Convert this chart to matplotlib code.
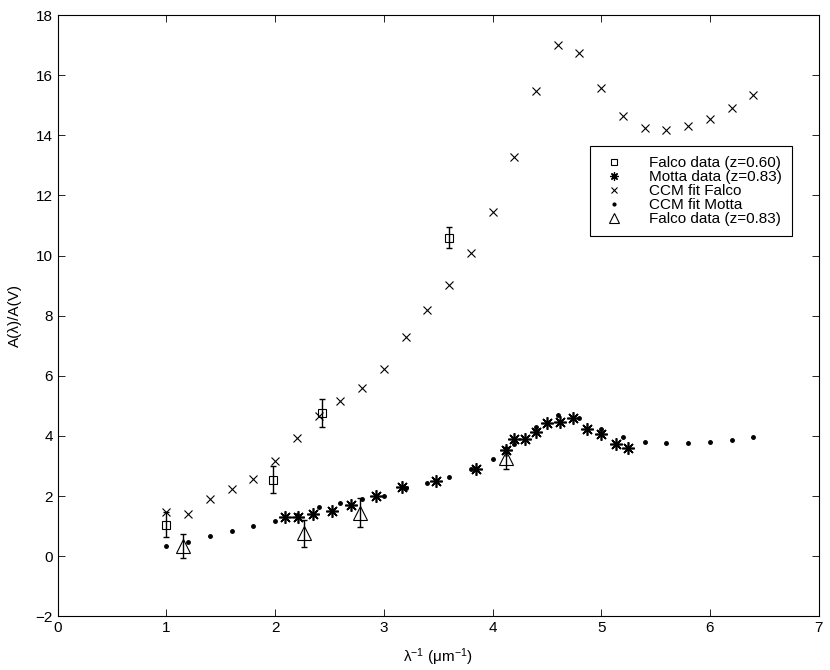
import matplotlib
matplotlib.use('Agg')
import matplotlib.pyplot as plt
from matplotlib.lines import Line2D

plt.rcParams['font.family'] = ['Liberation Sans', 'DejaVu Sans']
plt.rcParams['mathtext.fontset'] = 'custom'
plt.rcParams['mathtext.rm'] = 'Liberation Sans'
plt.rcParams['mathtext.it'] = 'Liberation Sans:italic'
plt.rcParams['font.size'] = 11

# CCM model grid (inverse wavelength, 1/micron)
ccm_x = [1.0, 1.2, 1.4, 1.6, 1.8, 2.0, 2.2, 2.4, 2.6, 2.8, 3.0, 3.2, 3.4, 3.6,
         3.8, 4.0, 4.2, 4.4, 4.6, 4.8, 5.0, 5.2, 5.4, 5.6, 5.8, 6.0, 6.2, 6.4]
ccm_falco = [1.46, 1.42, 1.89, 2.23, 2.58, 3.16, 3.92, 4.67, 5.17, 5.60, 6.24, 7.30, 8.18, 9.03,
             10.07, 11.44, 13.27, 15.46, 17.00, 16.75, 15.57, 14.65, 14.24, 14.16, 14.30, 14.55, 14.90, 15.35]
ccm_motta = [0.33, 0.46, 0.68, 0.83, 1.00, 1.18, 1.38, 1.62, 1.77, 1.89, 2.01, 2.27, 2.44, 2.63,
             2.90, 3.23, 3.74, 4.31, 4.71, 4.59, 4.22, 3.96, 3.81, 3.77, 3.78, 3.81, 3.88, 3.98]

# Motta data (z=0.83)
motta_x = [2.09, 2.21, 2.35, 2.52, 2.70, 2.93, 3.17, 3.48, 3.85, 4.12, 4.20, 4.30, 4.40, 4.50,
           4.62, 4.74, 4.87, 5.00, 5.14, 5.25]
motta_y = [1.30, 1.31, 1.42, 1.51, 1.69, 2.01, 2.31, 2.50, 2.89, 3.52, 3.90, 3.89, 4.14, 4.42,
           4.48, 4.60, 4.23, 4.06, 3.72, 3.61]

# Falco data (z=0.60)
falco60_x = [1.0, 1.98, 2.43, 3.6]
falco60_y = [1.05, 2.55, 4.76, 10.59]
falco60_err = [0.41, 0.46, 0.46, 0.35]

# Falco data (z=0.83)
falco83_x = [1.155, 2.27, 2.78, 4.12]
falco83_y = [0.33, 0.77, 1.45, 3.27]
falco83_err = [0.40, 0.45, 0.47, 0.37]

fig = plt.figure(figsize=(8.3, 6.7), dpi=100)
ax = fig.add_axes([0.0695, 0.0801, 0.9168, 0.8975])

ax.errorbar(falco60_x, falco60_y, yerr=falco60_err, fmt='none', ecolor='k',
            elinewidth=1.0, capsize=2.5, capthick=1.0)
ax.plot(falco60_x, falco60_y, 's', ms=6, mfc='none', mec='k', mew=0.8)
ax.plot(motta_x, motta_y, marker=(8, 2, 0), ls='none', ms=9, mec='k', mew=1.2)
ax.plot(ccm_x, ccm_falco, 'x', ms=5.5, mec='k', mew=0.8)
ax.plot(ccm_x, ccm_motta, 'o', ms=2.5, mfc='k', mec='k')
ax.errorbar(falco83_x, falco83_y, yerr=falco83_err, fmt='none', ecolor='k',
            elinewidth=1.0, capsize=2.5, capthick=1.0)
ax.plot(falco83_x, falco83_y, '^', ms=10, mfc='none', mec='k', mew=0.8)

ax.set_xlim(0, 7)
ax.set_ylim(-2, 18)
ax.set_xticks(range(0, 8))
ax.set_yticks(range(-2, 19, 2))
ax.tick_params(direction='in', top=True, right=True, length=5, width=0.6, labelsize=11)
for s in ax.spines.values():
    s.set_linewidth(0.8)

ax.set_xlabel(r'λ$^{-1}$ (μm$^{-1}$)', fontsize=11, labelpad=8)
ax.set_ylabel('A(λ)/A(V)', fontsize=11, labelpad=10)

handles = [
    Line2D([], [], ls='none', marker='s', ms=5, mfc='none', mec='k', mew=0.8),
    Line2D([], [], ls='none', marker=(8, 2, 0), ms=6, mec='k', mew=0.9),
    Line2D([], [], ls='none', marker='x', ms=5, mec='k', mew=0.8),
    Line2D([], [], ls='none', marker='o', ms=2, mfc='k', mec='k'),
    Line2D([], [], ls='none', marker='^', ms=7, mfc='none', mec='k', mew=0.8),
]
labels = ['Falco data (z=0.60)', 'Motta data (z=0.83)', 'CCM fit Falco',
          'CCM fit Motta', 'Falco data (z=0.83)']
leg = ax.legend(handles, labels, loc='upper left', bbox_to_anchor=(0.6996, 0.7821),
                borderaxespad=0, fancybox=False, framealpha=1, edgecolor='k',
                fontsize=11, labelspacing=0.0, handlelength=1.83, handletextpad=1.37,
                borderpad=0.65)
leg.get_frame().set_linewidth(0.8)

fig.savefig('out.png', dpi=100)
